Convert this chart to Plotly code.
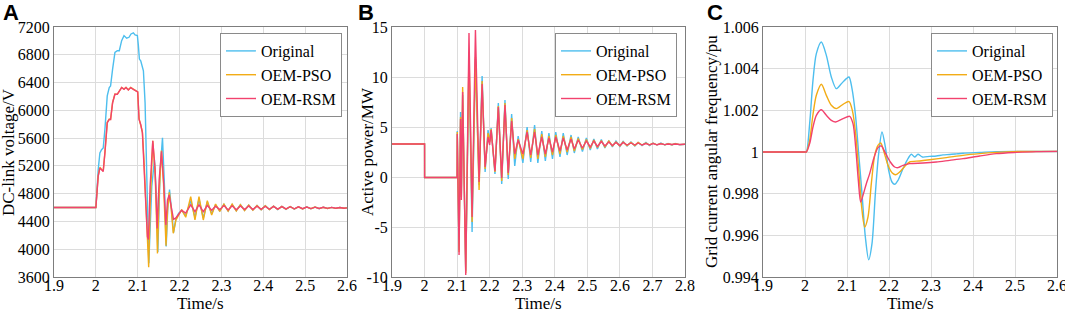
import plotly.graph_objects as go

# ---------------- Panel A: DC-link voltage ----------------
tA_orig = [1.9, 2.0, 2.0056, 2.0096, 2.0136, 2.0176, 2.0216, 2.0272, 2.032, 2.0352, 2.04, 2.0456, 2.0512, 2.056,
           2.0616, 2.0672, 2.0736, 2.0792, 2.084, 2.0896, 2.0936, 2.0992, 2.1016, 2.104, 2.1072, 2.1096, 2.1136,
           2.1176, 2.12, 2.1232, 2.1265, 2.1336, 2.14, 2.1456, 2.148, 2.1536, 2.1592, 2.164, 2.168, 2.172, 2.176,
           2.18, 2.1856, 2.1912, 2.1976, 2.205, 2.2147, 2.2266, 2.2368, 2.2464, 2.2567, 2.2663, 2.2767, 2.286,
           2.296, 2.306, 2.316, 2.3256, 2.3355, 2.3454, 2.3553, 2.3652, 2.3751, 2.385, 2.3949, 2.4048, 2.4147,
           2.4246, 2.4345, 2.4444, 2.4543, 2.4642, 2.4741, 2.484, 2.4939, 2.5038, 2.5137, 2.5236, 2.5335, 2.5434,
           2.5533, 2.5632, 2.5731, 2.583, 2.5929, 2.6]
vA_orig = [4600, 4600, 5144, 5386, 5434, 5458, 5724, 6207, 6328, 6352, 6593, 6835, 6859, 6859,
           7004, 7076, 7038, 7052, 7100, 7115, 7086, 7076, 6931, 6738, 6714, 6642, 6569,
           6110, 5579, 4806, 3800, 4903, 5289, 4661, 3960, 5144, 5603, 4903, 4040, 4613, 4860,
           4613, 4240, 4434, 4516, 4560, 4480, 4700, 4460, 4720, 4450, 4680, 4510, 4640,
           4550, 4645, 4550, 4645, 4555, 4640, 4560, 4635, 4565, 4630, 4568, 4625, 4570,
           4620, 4572, 4618, 4575, 4615, 4578, 4612, 4580, 4610, 4582, 4608, 4584, 4605,
           4586, 4603, 4588, 4600, 4590, 4596]

tA_pso = [1.9, 2.0, 2.0056, 2.0096, 2.0136, 2.0176, 2.0216, 2.0272, 2.032, 2.0352, 2.04, 2.0456, 2.0512, 2.056,
          2.0616, 2.0672, 2.072, 2.0776, 2.0832, 2.0896, 2.096, 2.1, 2.1032, 2.1072, 2.1112, 2.1152, 2.1184,
          2.1232, 2.1262, 2.1296, 2.136, 2.1416, 2.1472, 2.1512, 2.1568, 2.1616, 2.1676, 2.1712, 2.1755, 2.18,
          2.185, 2.1912, 2.196, 2.205, 2.2147, 2.2266, 2.2368, 2.2464, 2.2567, 2.2663, 2.2767, 2.286, 2.296,
          2.306, 2.316, 2.3256, 2.3355, 2.3454, 2.3553, 2.3652, 2.3751, 2.385, 2.3949, 2.4048, 2.4147,
          2.4246, 2.4345, 2.4444, 2.4543, 2.4642, 2.4741, 2.484, 2.4939, 2.5038, 2.5137, 2.5236, 2.5335, 2.5434,
          2.5533, 2.5632, 2.5731, 2.583, 2.5929, 2.6]
vA_pso = [4600, 4600, 5060, 5180, 5150, 5125, 5390, 5830, 5875, 5870, 6115, 6235, 6230, 6280,
          6330, 6305, 6330, 6295, 6330, 6305, 6280, 6265, 5880, 5800, 5690, 5260, 4780,
          4100, 3740, 4600, 5560, 5100, 3940, 4800, 5420, 4950, 4050, 4560, 4820, 4580,
          4230, 4420, 4480, 4570, 4460, 4757, 4421, 4757, 4421, 4700, 4493, 4650, 4545,
          4650, 4548, 4648, 4552, 4642, 4558, 4636, 4563, 4630, 4567, 4626, 4570,
          4621, 4573, 4617, 4576, 4614, 4579, 4611, 4581, 4609, 4583, 4607, 4585, 4604,
          4587, 4602, 4589, 4600, 4591, 4595]

tA_rsm = [1.9, 2.0, 2.0056, 2.0096, 2.0136, 2.0176, 2.0216, 2.0272, 2.032, 2.0352, 2.04, 2.0456, 2.0512, 2.056,
          2.0616, 2.0672, 2.072, 2.0776, 2.0832, 2.0896, 2.096, 2.1, 2.1032, 2.1072, 2.1112, 2.1152, 2.1184,
          2.1232, 2.1256, 2.1296, 2.136, 2.1416, 2.1464, 2.1512, 2.1568, 2.1616, 2.1672, 2.1712, 2.1752, 2.18,
          2.1856, 2.1912, 2.1976, 2.205, 2.2147, 2.2266, 2.2368, 2.2464, 2.2567, 2.2663, 2.2767, 2.286, 2.296,
          2.306, 2.316, 2.3256, 2.3355, 2.3454, 2.3553, 2.3652, 2.3751, 2.385, 2.3949, 2.4048, 2.4147,
          2.4246, 2.4345, 2.4444, 2.4543, 2.4642, 2.4741, 2.484, 2.4939, 2.5038, 2.5137, 2.5236, 2.5335, 2.5434,
          2.5533, 2.5632, 2.5731, 2.583, 2.5929, 2.6]
vA_rsm = [4600, 4600, 5048, 5168, 5144, 5120, 5386, 5820, 5869, 5869, 6110, 6231, 6231, 6279,
          6328, 6303, 6328, 6294, 6328, 6303, 6279, 6265, 5869, 5797, 5676, 5241, 4758,
          4178, 4140, 4903, 5560, 5144, 4300, 5000, 5410, 5000, 4350, 4710, 4780, 4613,
          4430, 4450, 4500, 4560, 4520, 4640, 4540, 4640, 4540, 4630, 4560, 4620, 4570,
          4628, 4566, 4626, 4568, 4624, 4570, 4622, 4572, 4620, 4574, 4618, 4576,
          4616, 4578, 4614, 4580, 4612, 4582, 4610, 4584, 4608, 4585, 4606, 4587, 4604,
          4588, 4602, 4590, 4600, 4591, 4595]

# ---------------- Panel B: active power ----------------
tB = [1.9, 2.0, 2.0001, 2.1, 2.1005, 2.106, 2.1105, 2.113, 2.117, 2.1265, 2.1365, 2.146, 2.1563, 2.1675,
      2.1768, 2.186, 2.195, 2.2, 2.2045, 2.2163, 2.2266, 2.237, 2.247, 2.257, 2.2675, 2.277, 2.2875, 2.302,
      2.315, 2.326, 2.338, 2.348, 2.36, 2.371, 2.382, 2.393, 2.403, 2.416, 2.426, 2.438, 2.45, 2.46, 2.472,
      2.485, 2.497, 2.509, 2.52, 2.531, 2.543, 2.554, 2.566, 2.577, 2.588, 2.6, 2.61, 2.622, 2.634, 2.646,
      2.656, 2.668, 2.68, 2.691, 2.702, 2.714, 2.726, 2.738, 2.748, 2.76, 2.77, 2.784, 2.8]
pB_orig = [3.3, 3.3, -0.05, -0.05, 4.6, -7.3, 6.5, -1.8, 8.2, -9.4, 11.5, -5.5, 11.8, -0.8, 10.1, 0.5,
           4.7, 3.6, 4.9, 0.3, 7.4, -0.7, 7.7, -0.2, 6.3, 1.1, 4.1, 1.4, 5.0, 1.5, 5.2, 1.4,
           4.6, 1.6, 4.4, 1.8, 4.5, 2.0, 4.4, 2.2, 4.2, 2.4, 4.0, 2.55, 3.9, 2.7, 3.8, 2.8, 3.75, 2.9,
           3.65, 3.0, 3.6, 3.05, 3.55, 3.1, 3.5, 3.1, 3.45, 3.15, 3.45, 3.15, 3.4, 3.2, 3.4, 3.2, 3.35, 3.2,
           3.35, 3.22, 3.28]
pB_pso = [3.3, 3.3, -0.05, -0.05, 4.5, -7.5, 6.0, -2.0, 9.0, -9.6, 12.5, -4.5, 12.0, -1.3, 9.6, 0.8,
          4.4, 3.5, 4.8, 0.5, 7.1, -0.4, 7.4, 0.2, 5.9, 1.8, 3.8, 1.8, 4.7, 1.9, 4.8, 1.8,
          4.3, 2.0, 4.1, 2.2, 4.2, 2.3, 4.1, 2.5, 4.0, 2.6, 3.85, 2.75, 3.75, 2.85, 3.7, 2.95, 3.65, 3.0,
          3.6, 3.1, 3.5, 3.1, 3.5, 3.15, 3.45, 3.15, 3.45, 3.2, 3.4, 3.2, 3.38, 3.22, 3.36, 3.22, 3.32, 3.23,
          3.32, 3.24, 3.28]
pB_rsm = [3.3, 3.3, -0.05, -0.05, 4.3, -7.8, 5.8, -2.3, 8.5, -9.8, 14.4, -4.0, 14.7, -0.5, 9.3, 1.0,
          4.0, 3.2, 4.7, 0.6, 7.0, -0.1, 7.2, 0.4, 5.6, 2.3, 3.7, 2.3, 4.5, 2.2, 4.5, 2.2,
          4.0, 2.3, 3.9, 2.5, 4.0, 2.6, 3.9, 2.7, 3.8, 2.8, 3.7, 2.9, 3.6, 3.0, 3.6, 3.05, 3.55, 3.1,
          3.5, 3.15, 3.45, 3.15, 3.45, 3.2, 3.4, 3.2, 3.4, 3.2, 3.35, 3.22, 3.35, 3.22, 3.32, 3.24, 3.3, 3.25,
          3.3, 3.25, 3.27]

# ---------------- Panel C: grid current angular frequency ----------------
tC_orig = [1.9, 2.0, 2.0032, 2.0111, 2.019, 2.027, 2.0389, 2.0508, 2.0627, 2.0746, 2.0865, 2.0984, 2.1048,
           2.1119, 2.1198, 2.1278, 2.1357, 2.1437, 2.1516, 2.1595, 2.1675, 2.1754, 2.1833, 2.1913, 2.1992,
           2.2071, 2.2135, 2.2214, 2.2317, 2.2429, 2.2532, 2.2611, 2.269, 2.2794, 2.2968, 2.3127, 2.3286,
           2.3444, 2.3603, 2.3762, 2.4159, 2.4556, 2.5, 2.55, 2.6]
wC_orig = [1.0, 1.0, 1.0, 1.00136, 1.00344, 1.00472, 1.00528, 1.00464, 1.0036, 1.00304, 1.00328, 1.00352, 1.0036,
           1.00304, 1.00184, 0.99992, 0.998, 0.99592, 0.99483, 0.9956, 0.998, 0.99992, 1.00096, 1.00024, 0.99912,
           0.99856, 0.99845, 0.99864, 0.99912, 0.9996, 0.99989, 0.99976, 0.99989, 0.99976, 0.99979, 0.99981, 0.99986,
           0.99988, 0.99991, 0.99994, 0.99998, 1.00002, 1.00003, 1.00003, 1.00003]

tC_pso = [1.9, 2.0, 2.0032, 2.0111, 2.019, 2.027, 2.0389, 2.0508, 2.0627, 2.0746, 2.0905, 2.1048, 2.1127,
          2.1206, 2.1286, 2.1349, 2.1421, 2.15, 2.1579, 2.1659, 2.1738, 2.1802, 2.1881, 2.1976, 2.2079,
          2.2159, 2.2254, 2.2373, 2.2492, 2.273, 2.2968, 2.3365, 2.3762, 2.4159, 2.4556, 2.4952, 2.6]
wC_pso = [1.0, 1.0, 1.0, 1.00056, 1.0018, 1.00272, 1.00325, 1.00272, 1.00224, 1.00208, 1.00229, 1.00242, 1.002,
          1.00088, 0.99896, 0.99736, 0.9964, 0.99688, 0.99848, 0.99984, 1.00032, 1.00043, 1.0, 0.99936, 0.99899,
          0.99891, 0.99904, 0.99931, 0.99952, 0.99957, 0.99963, 0.99973, 0.99984, 0.99992, 0.99998, 1.00002, 1.00003]

tC_rsm = [1.9, 2.0, 2.0032, 2.0111, 2.019, 2.027, 2.0389, 2.0508, 2.0627, 2.073, 2.0905, 2.1063, 2.1143,
          2.1206, 2.127, 2.1325, 2.1381, 2.146, 2.154, 2.1635, 2.1738, 2.1817, 2.1921, 2.2032, 2.2135,
          2.2214, 2.2333, 2.2492, 2.281, 2.3127, 2.3444, 2.3762, 2.4159, 2.4556, 2.5032, 2.5508, 2.6]
wC_rsm = [1.0, 1.0, 1.0, 1.0004, 1.0012, 1.00176, 1.00203, 1.00176, 1.00152, 1.00144, 1.0016, 1.00171, 1.00136,
          1.00024, 0.99864, 0.9976, 0.99792, 0.99848, 0.99896, 0.99968, 1.00021, 1.00029, 0.99992, 0.99952, 0.99928,
          0.99925, 0.99936, 0.99944, 0.99947, 0.99952, 0.9996, 0.99968, 0.99981, 0.99992, 0.99998, 1.00002, 1.00003]

series_names = ["Original", "OEM-PSO", "OEM-RSM"]
series_colors = ["#4DBEEE", "#F2AC16", "#F2426E"]

xA_ticks = [1.9, 2.0, 2.1, 2.2, 2.3, 2.4, 2.5, 2.6]
xA_labels = ["1.9", "2", "2.1", "2.2", "2.3", "2.4", "2.5", "2.6"]
yA_ticks = [3600, 4000, 4400, 4800, 5200, 5600, 6000, 6400, 6800, 7200]
xB_ticks = [1.9, 2.0, 2.1, 2.2, 2.3, 2.4, 2.5, 2.6, 2.7, 2.8]
xB_labels = ["1.9", "2", "2.1", "2.2", "2.3", "2.4", "2.5", "2.6", "2.7", "2.8"]
yB_ticks = [-10, -5, 0, 5, 10, 15]
yB_labels = ["-10", "-5", "0", "5", "10", "15"]
yC_ticks = [0.994, 0.996, 0.998, 1.0, 1.002, 1.004, 1.006]
yC_labels = ["0.994", "0.996", "0.998", "1", "1.002", "1.004", "1.006"]

SERIF = "Liberation Serif"
fig = go.Figure()

panels = [
    ("x", "y", "legend", [(tA_orig, vA_orig), (tA_pso, vA_pso), (tA_rsm, vA_rsm)], "linear"),
    ("x2", "y2", "legend2", [(tB, pB_orig), (tB, pB_pso), (tB, pB_rsm)], "linear"),
    ("x3", "y3", "legend3", [(tC_orig, wC_orig), (tC_pso, wC_pso), (tC_rsm, wC_rsm)], "spline"),
]
for xa, ya, lg, data, shape in panels:
    for (tx, vy), name, col in zip(data, series_names, series_colors):
        line = dict(color=col, width=1.4, shape=shape)
        if shape == "spline":
            line["smoothing"] = 0.8
        fig.add_trace(go.Scatter(x=tx, y=vy, mode="lines", name=name, xaxis=xa, yaxis=ya, legend=lg, line=line))

H = 312.0
W = 1065.0
ydom = [1 - 277 / H, 1 - 27 / H]
tickfont = dict(family=SERIF, size=16, color="black")
common = dict(showgrid=True, gridcolor="#dcdcdc", gridwidth=1, showline=True, linecolor="#7d7d7d",
              linewidth=1, mirror=True, ticks="", tickfont=tickfont, zeroline=False, automargin=False,
              ticklabeloverflow="allow")
xcommon = dict(ticklabelstandoff=-6, **common)
ycommon = dict(ticklabelstandoff=0, **common)

fig.update_layout(
    template="none",
    width=1065, height=312, margin=dict(l=0, r=0, t=0, b=0, pad=0, autoexpand=False),
    paper_bgcolor="white", plot_bgcolor="white",
    xaxis=dict(domain=[54 / W, 347 / W], range=[1.9, 2.6], tickvals=xA_ticks, ticktext=xA_labels, anchor="y", **xcommon),
    yaxis=dict(domain=ydom, range=[3600, 7200], tickvals=yA_ticks, anchor="x", **ycommon),
    xaxis2=dict(domain=[392 / W, 685 / W], range=[1.9, 2.8], tickvals=xB_ticks, ticktext=xB_labels, anchor="y2", **xcommon),
    yaxis2=dict(domain=ydom, range=[-10, 15], tickvals=yB_ticks, ticktext=yB_labels, anchor="x2", **ycommon),
    xaxis3=dict(domain=[763 / W, 1057 / W], range=[1.9, 2.6], tickvals=xA_ticks, ticktext=xA_labels, anchor="y3", **xcommon),
    yaxis3=dict(domain=ydom, range=[0.994, 1.006], tickvals=yC_ticks, ticktext=yC_labels, anchor="x3", **ycommon),
)

legend_common = dict(font=dict(family=SERIF, size=16, color="black"), bgcolor="white", bordercolor="#8a8a8a",
                     borderwidth=1, xanchor="right", yanchor="top", y=1 - 33 / H, itemwidth=30, tracegroupgap=0)
fig.update_layout(
    legend=dict(x=342 / W, **legend_common),
    legend2=dict(x=677 / W, **legend_common),
    legend3=dict(x=1053 / W, **legend_common),
)

titlefont = dict(family=SERIF, size=17, color="black")
ann = []
for xc in [(54 + 347) / 2, (392 + 685) / 2, (763 + 1057) / 2]:
    ann.append(dict(text="Time/s", x=xc / W, y=1 - 303 / H, xref="paper", yref="paper", showarrow=False,
                    xanchor="center", yanchor="middle", font=titlefont))
for xc, txt in [(8, "DC-link voltage/V"), (367, "Active power/MW"), (711, "Grid current angular frequency/pu")]:
    ann.append(dict(text=txt, x=xc / W, y=1 - 152 / H, xref="paper", yref="paper", showarrow=False,
                    xanchor="center", yanchor="middle", textangle=-90, font=titlefont))
for xc, txt in [(1, "A"), (356, "B"), (705, "C")]:
    ann.append(dict(text="<b>%s</b>" % txt, x=xc / W, y=1 + 2 / H, xref="paper", yref="paper", showarrow=False,
                    xanchor="left", yanchor="top", font=dict(family="Liberation Sans", size=22, color="black")))
fig.update_layout(annotations=ann)

fig.write_html("out.html", config={"displayModeBar": False},
               post_script="document.body.style.margin='0px';document.body.style.overflow='hidden';")
